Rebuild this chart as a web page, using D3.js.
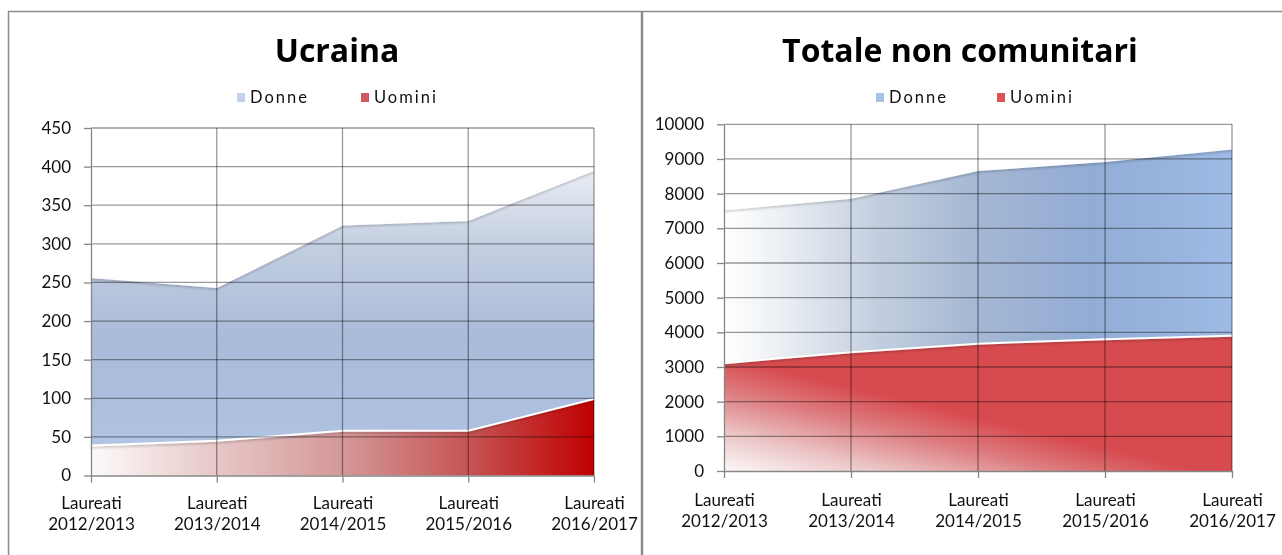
<!DOCTYPE html>
<html>
<head>
<meta charset="utf-8">
<script src="https://cdn.jsdelivr.net/npm/d3@7"></script>
<style>
  body { margin: 0; background: #fff; }
  text { font-family: Lato, "Open Sans", sans-serif; fill: #111; }
  .grid line { stroke: #9a9a9a; stroke-width: 1.3; mix-blend-mode: multiply; }
  .axis path, .axis line { stroke: #868686; stroke-width: 1.3; }
  .axis text { font-size: 17px; fill: #111; font-family: Lato, sans-serif; }
  .title { font-family: "Open Sans", sans-serif; font-weight: bold; font-size: 32px; fill: #000; }
  .legend text { font-size: 16.5px; letter-spacing: 2px; }
</style>
</head>
<body>
<div id="chart"></div>
<script>
// categories (x axis)
const categories = ["Laureati 2012/2013", "Laureati 2013/2014", "Laureati 2014/2015", "Laureati 2015/2016", "Laureati 2016/2017"];
const seriesNames = ["Donne", "Uomini"];

// Ucraina
const ucrainaUomini = [39, 45, 58, 58, 99];
const ucrainaDonne = [218, 199, 267, 273, 297];
const ucrainaTicks = [0, 50, 100, 150, 200, 250, 300, 350, 400, 450];

// Totale non comunitari
const totaleUomini = [3109, 3426, 3673, 3802, 3901];
const totaleDonne = [4438, 4456, 5007, 5137, 5404];
const totaleTicks = [0, 1000, 2000, 3000, 4000, 5000, 6000, 7000, 8000, 9000, 10000];

const svg = d3.select("#chart").append("svg")
  .attr("width", 1282)
  .attr("height", 555);

const defs = svg.append("defs");

// soft shadow under the white top edges
const shadow = defs.append("filter").attr("id", "edgeShadow")
  .attr("x", "-5%").attr("y", "-50%").attr("width", "110%").attr("height", "200%");
shadow.append("feDropShadow")
  .attr("dx", 0).attr("dy", 1.5).attr("stdDeviation", 1.2)
  .attr("flood-color", "#000").attr("flood-opacity", 0.25);

function gradient(id, x1, y1, x2, y2, stops) {
  const grad = defs.append("linearGradient").attr("id", id)
    .attr("gradientUnits", "userSpaceOnUse")
    .attr("x1", x1).attr("y1", y1).attr("x2", x2).attr("y2", y2);
  stops.forEach(s => grad.append("stop").attr("offset", s[0]).attr("stop-color", s[1]));
}

// chart frames
svg.append("rect").attr("x", 8.5).attr("y", 11.5).attr("width", 633).attr("height", 600)
  .attr("fill", "none").attr("stroke", "#8c8c8c").attr("stroke-width", 1.5);
svg.append("rect").attr("x", 642.5).attr("y", 11.5).attr("width", 700).attr("height", 600)
  .attr("fill", "none").attr("stroke", "#8c8c8c").attr("stroke-width", 1.5);

function drawChart(opt) {
  const x = d3.scalePoint().domain(categories).range([opt.x0, opt.x1]);
  const y = d3.scaleLinear().domain([0, d3.max(opt.ticks)]).range([opt.yBottom, opt.yTop]);

  const rows = categories.map((c, i) => ({ cat: c, Uomini: opt.uomini[i], Donne: opt.donne[i] }));
  const stacked = d3.stack().keys(["Uomini", "Donne"])(rows);

  const area = d3.area()
    .x(d => x(d.data.cat))
    .y0(d => y(d[0]))
    .y1(d => y(d[1]));
  const topLine = d3.line()
    .x(d => x(d.data.cat))
    .y(d => y(d[1]));

  opt.makeGradients(x, y);

  const g = svg.append("g");

  g.append("path").datum(stacked[1])
    .attr("d", area)
    .attr("fill", `url(#${opt.id}-donne)`);
  g.append("path").datum(stacked[0])
    .attr("d", area)
    .attr("fill", `url(#${opt.id}-uomini)`);

  // white edges on top of each area
  stacked.forEach(s => {
    g.append("path").datum(s)
      .attr("d", topLine)
      .attr("fill", "none")
      .attr("stroke", "#fff")
      .attr("stroke-width", 2)
      .attr("filter", "url(#edgeShadow)");
  });

  // gridlines
  const grid = g.append("g").attr("class", "grid");
  grid.selectAll(".h").data(opt.ticks.slice(1)).enter().append("line")
    .attr("x1", opt.x0).attr("x2", opt.x1)
    .attr("y1", d => y(d)).attr("y2", d => y(d));
  grid.selectAll(".v").data(categories.slice(1)).enter().append("line")
    .attr("x1", d => x(d)).attr("x2", d => x(d))
    .attr("y1", opt.yTop).attr("y2", opt.yBottom);

  // axes
  g.append("g").attr("class", "axis")
    .attr("transform", `translate(${opt.x0},0)`)
    .call(d3.axisLeft(y).tickValues(opt.ticks).tickFormat(d3.format("d"))
      .tickSize(7).tickSizeOuter(0).tickPadding(13));

  const xAxis = g.append("g").attr("class", "axis")
    .attr("transform", `translate(0,${opt.yBottom})`)
    .call(d3.axisBottom(x).tickSize(7).tickSizeOuter(0).tickFormat(""));
  xAxis.selectAll(".tick").append("text")
    .attr("text-anchor", "middle")
    .selectAll("tspan")
    .data(d => d.split(" "))
    .enter().append("tspan")
    .attr("x", 0)
    .attr("y", (d, i) => opt.labelY + i * 21)
    .text(d => d);

  // title
  svg.append("text").attr("class", "title")
    .attr("x", opt.titleX).attr("y", 62)
    .attr("text-anchor", "middle")
    .text(opt.title);

  // legend
  const legend = svg.append("g").attr("class", "legend")
    .attr("transform", `translate(${opt.legendX},103)`);
  seriesNames.forEach((name, i) => {
    const lg = legend.append("g").attr("transform", `translate(${i * opt.legendGap},0)`);
    lg.append("rect").attr("x", 0).attr("y", -10).attr("width", 8).attr("height", 9)
      .attr("fill", opt.legendColors[i]);
    lg.append("text").attr("x", 13).attr("y", 0).text(name);
  });
}

drawChart({
  id: "ucr",
  title: "Ucraina",
  titleX: 337,
  legendX: 237,
  legendGap: 124,
  legendColors: ["#c3d1ea", "#d0595d"],
  x0: 91, x1: 594, yTop: 128, yBottom: 475.5,
  ticks: ucrainaTicks,
  uomini: ucrainaUomini,
  donne: ucrainaDonne,
  labelY: 33,
  makeGradients: (x, y) => {
    gradient("ucr-donne", 0, y(450), 0, y(0), [
      [0, "#f8f9fb"], [0.15, "#e4e9f1"], [0.35, "#c2cde0"], [0.6, "#aabbd9"], [0.85, "#adc0e0"], [1, "#bccdea"]
    ]);
    gradient("ucr-uomini", x.range()[0], 0, x.range()[1], 0, [
      [0, "#fdfafa"], [0.25, "#e7c7c7"], [0.5, "#d49898"], [0.75, "#c65454"], [1, "#c00000"]
    ]);
  }
});

drawChart({
  id: "tot",
  title: "Totale non comunitari",
  titleX: 960,
  legendX: 876,
  legendGap: 121,
  legendColors: ["#a8c0e6", "#dd5357"],
  x0: 724, x1: 1232, yTop: 124.3, yBottom: 471,
  ticks: totaleTicks,
  uomini: totaleUomini,
  donne: totaleDonne,
  labelY: 35,
  makeGradients: (x, y) => {
    const [a, b] = x.range();
    gradient("tot-donne", a, 0, b, 0, [
      [0, "#ffffff"], [0.1, "#eef1f5"], [0.3, "#c3cfe0"], [0.5, "#a5b7d3"], [0.72, "#92acd5"], [1, "#9dbbe5"]
    ]);
    gradient("tot-uomini", a, y(0), a + 26, y(0) - 108, [
      [0, "#fbf8f8"], [0.35, "#ebc3c4"], [0.7, "#dd7d80"], [1, "#d74b4f"]
    ]);
  }
});
</script>
</body>
</html>
